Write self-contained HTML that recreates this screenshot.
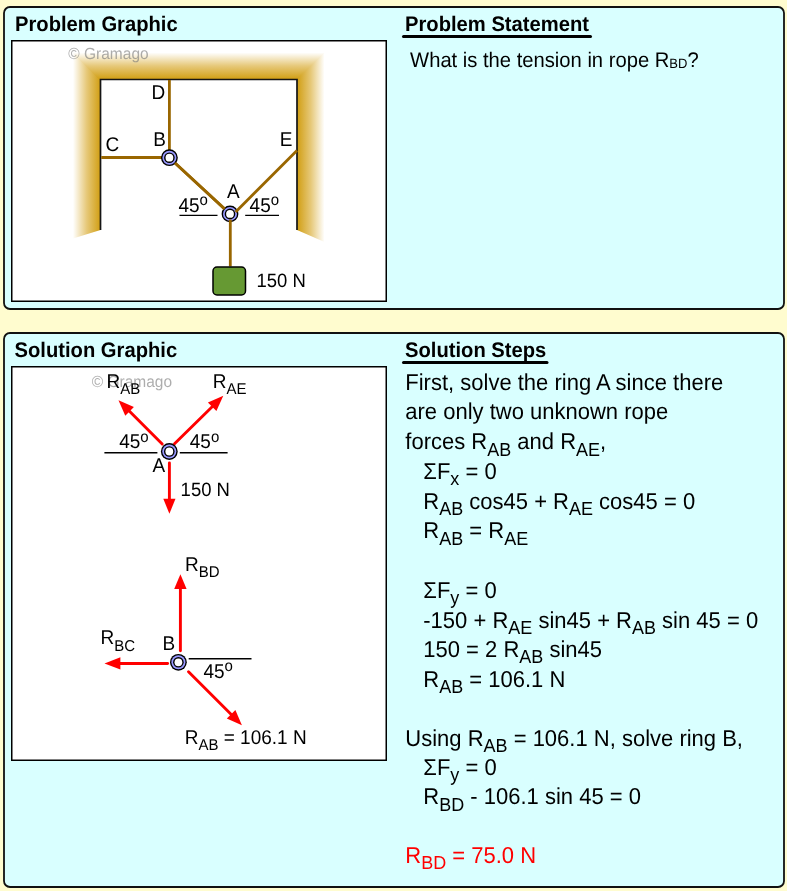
<!DOCTYPE html>
<html>
<head>
<meta charset="utf-8">
<style>
html,body{margin:0;padding:0;background:#FFFCCF;}
body{width:787px;height:891px;overflow:hidden;}
svg{display:block;will-change:transform;}
text{font-family:"Liberation Sans",sans-serif;text-rendering:geometricPrecision;}
.h{font-weight:bold;font-size:20.2px;}
.st{font-size:22px;}
.lb{font-size:19px;}
</style>
</head>
<body>
<svg width="787" height="891" viewBox="0 0 787 891">
<defs>
  <linearGradient id="gL" gradientUnits="userSpaceOnUse" x1="73" y1="0" x2="100.5" y2="0">
    <stop offset="0" stop-color="#FFFFFF"/>
    <stop offset="0.5" stop-color="#E6C878"/>
    <stop offset="1" stop-color="#D19E12"/>
  </linearGradient>
  <linearGradient id="gT" gradientUnits="userSpaceOnUse" x1="0" y1="52.5" x2="0" y2="79.5">
    <stop offset="0" stop-color="#FFFFFF"/>
    <stop offset="0.5" stop-color="#E6C878"/>
    <stop offset="1" stop-color="#D19E12"/>
  </linearGradient>
  <linearGradient id="gR" gradientUnits="userSpaceOnUse" x1="324.5" y1="0" x2="297" y2="0">
    <stop offset="0" stop-color="#FFFFFF"/>
    <stop offset="0.5" stop-color="#E6C878"/>
    <stop offset="1" stop-color="#D19E12"/>
  </linearGradient>
</defs>

<!-- panels -->
<rect x="4" y="7" width="780" height="302" rx="6" fill="#D9FFFF" stroke="#111" stroke-width="1.8"/>
<rect x="4" y="333" width="780" height="554" rx="6" fill="#D9FFFF" stroke="#111" stroke-width="1.8"/>

<!-- white boxes -->
<rect x="11.75" y="40.75" width="374.5" height="260.5" fill="#FFFFFF" stroke="#000" stroke-width="1.5"/>
<rect x="11.75" y="366.75" width="374.5" height="393.5" fill="#FFFFFF" stroke="#000" stroke-width="1.5"/>

<!-- headings -->
<text class="h" x="15" y="30.8" transform="matrix(1,0,0,1.0450,0,-1.3860)">Problem Graphic</text>
<text class="h" x="405" y="30.9" transform="matrix(1,0,0,1.0450,0,-1.3905)">Problem Statement</text>
<line x1="403.5" y1="36.5" x2="590.5" y2="36.5" stroke="#000" stroke-width="3" stroke-linecap="round"/>
<text class="h" x="14.5" y="357.3" transform="matrix(1,0,0,1.0450,0,-16.0785)">Solution Graphic</text>
<text class="h" x="405" y="357" transform="matrix(1,0,0,1.0450,0,-16.0650)">Solution Steps</text>
<line x1="403.5" y1="362.5" x2="547" y2="362.5" stroke="#000" stroke-width="3" stroke-linecap="round"/>

<!-- problem statement -->
<text x="410.1" y="66.7" font-size="20.2" transform="matrix(1,0,0,1.0450,0,-3.0015)">What is the tension in rope R<tspan font-size="13" dy="1.3">BD</tspan><tspan dy="-1.3">?</tspan></text>

<!-- ===== Problem graphic ===== -->
<polygon points="73,52.5 100.5,79.5 100.5,230 73,238.5" fill="url(#gL)"/>
<polygon points="72.3,52.5 325.2,52.5 297.7,80 99.8,80" fill="url(#gT)"/>
<polygon points="324.5,52.5 324.5,242 297,230 297,79.5" fill="url(#gR)"/>
<polyline points="100.5,230 100.5,79.5 297,79.5 297,230" fill="none" stroke="#151515" stroke-width="1.7"/>
<text x="68.3" y="59.5" font-size="15.5" fill="#777" fill-opacity="0.6" transform="matrix(1,0,0,1.0450,0,-2.6775)">© Gramago</text>

<g stroke="#996600" stroke-width="2.8" fill="none">
  <line x1="169.4" y1="80" x2="169.4" y2="152"/>
  <line x1="101.2" y1="157.5" x2="162" y2="157.5"/>
  <line x1="174.5" y1="162.5" x2="230" y2="214"/>
</g>
<g>
  <circle cx="169.4" cy="157.7" r="8.4" fill="#000"/>
  <circle cx="169.4" cy="157.7" r="7.0" fill="#9999FF"/>
  <circle cx="169.4" cy="157.7" r="5.3" fill="#000"/>
  <circle cx="169.4" cy="157.7" r="3.9" fill="#FFF"/>
</g>
<g>
  <circle cx="230" cy="213.9" r="8.4" fill="#000"/>
  <circle cx="230" cy="213.9" r="7.0" fill="#9999FF"/>
  <circle cx="230" cy="213.9" r="5.3" fill="#000"/>
  <circle cx="230" cy="213.9" r="3.9" fill="#FFF"/>
</g>
<g stroke="#996600" stroke-width="2.8" fill="none">
  <line x1="175" y1="163" x2="224.6" y2="208.9"/>
  <line x1="235.6" y1="211.9" x2="297" y2="150.5"/>
  <line x1="230.3" y1="219.5" x2="230.3" y2="266.5"/>
</g>
<g stroke="#000" stroke-width="1.4">
  <line x1="179.5" y1="215.4" x2="217.5" y2="215.4"/>
  <line x1="245.2" y1="215.4" x2="279" y2="215.4"/>
</g>
<rect x="213" y="267" width="32.5" height="28" rx="4" fill="#669933" stroke="#000" stroke-width="1.5"/>

<g class="lb">
  <text class="lb" x="151.6" y="99.1" transform="matrix(1,0,0,1.0450,0,-4.4595)">D</text>
  <text class="lb" x="153.3" y="145.6" transform="matrix(1,0,0,1.0450,0,-6.5520)">B</text>
  <text class="lb" x="105.5" y="150.6" transform="matrix(1,0,0,1.0450,0,-6.7770)">C</text>
  <text class="lb" x="279.7" y="145.9" transform="matrix(1,0,0,1.0450,0,-6.5655)">E</text>
  <text class="lb" x="226.9" y="197.9" transform="matrix(1,0,0,1.0450,0,-8.9055)">A</text>
  <text class="lb" x="178.4" y="211.6" transform="matrix(1,0,0,1.0450,0,-9.5220)"><tspan font-size="19">45</tspan><tspan font-size="15" dy="-6.3">o</tspan></text>
  <text class="lb" x="249.6" y="211.6" transform="matrix(1,0,0,1.0450,0,-9.5220)"><tspan font-size="19">45</tspan><tspan font-size="15" dy="-6.3">o</tspan></text>
  <text class="lb" x="256.4" y="287.1" font-size="18.5" style="font-size:18.5px" transform="matrix(1,0,0,1.0450,0,-12.9195)">150 N</text>
</g>

<!-- ===== Solution graphic ===== -->
<text x="91.7" y="386.5" font-size="15.5" fill="#777" fill-opacity="0.6" transform="matrix(1,0,0,1.0450,0,-17.3925)">© Gramago</text>
<g stroke="#FF0000" stroke-width="2.9" stroke-linecap="round" fill="none">
  <line x1="162.2" y1="444" x2="127" y2="408.8"/>
  <line x1="174.5" y1="443.7" x2="215" y2="404"/>
  <line x1="169.4" y1="463" x2="169.4" y2="502"/>
  <line x1="180.4" y1="650.7" x2="180.4" y2="586"/>
  <line x1="167.6" y1="663.5" x2="118" y2="663.5"/>
  <line x1="188.5" y1="671.8" x2="233" y2="716.3"/>
</g>
<g fill="#FF0000">
  <!-- tip AB (118.5,400.3) dir up-left -->
  <polygon points="118.5,400.3 133.9,407.1 125.3,415.7"/>
  <polygon points="223.3,395.7 216.4,411.0 207.9,402.5"/>
  <polygon points="169.4,513.8 163.3,498.8 175.5,498.8"/>
  <polygon points="180.4,574.2 186.6,589 174.2,589"/>
  <polygon points="104.5,663.4 120.4,657.2 120.4,669.6"/>
  <polygon points="241.9,725.2 226.8,718.6 235.4,710.0"/>
</g>
<g>
  <circle cx="169.3" cy="451.5" r="8.4" fill="#000"/>
  <circle cx="169.3" cy="451.5" r="7.0" fill="#9999FF"/>
  <circle cx="169.3" cy="451.5" r="5.3" fill="#000"/>
  <circle cx="169.3" cy="451.5" r="3.9" fill="#FFF"/>
  <circle cx="178.4" cy="662.3" r="8.4" fill="#000"/>
  <circle cx="178.4" cy="662.3" r="7.0" fill="#9999FF"/>
  <circle cx="178.4" cy="662.3" r="5.3" fill="#000"/>
  <circle cx="178.4" cy="662.3" r="3.9" fill="#FFF"/>
</g>
<g stroke="#000" stroke-width="1.6">
  <line x1="104.4" y1="452.7" x2="157.4" y2="452.7"/>
  <line x1="179.8" y1="452.7" x2="227.6" y2="452.7"/>
  <line x1="188.7" y1="658.8" x2="251.5" y2="658.8"/>
</g>
<text class="lb" x="106.6" y="387.8" transform="matrix(1,0,0,1.0450,0,-17.4510)">R<tspan font-size="15" dy="6.4">AB</tspan></text>
<text class="lb" x="212.7" y="387.8" transform="matrix(1,0,0,1.0450,0,-17.4510)">R<tspan font-size="15" dy="6.4">AE</tspan></text>
<text class="lb" x="119.2" y="448.2" transform="matrix(1,0,0,1.0450,0,-20.1690)"><tspan font-size="19">45</tspan><tspan font-size="15" dy="-6.3">o</tspan></text>
<text class="lb" x="189.8" y="448.2" transform="matrix(1,0,0,1.0450,0,-20.1690)"><tspan font-size="19">45</tspan><tspan font-size="15" dy="-6.3">o</tspan></text>
<text class="lb" x="152.5" y="472" transform="matrix(1,0,0,1.0450,0,-21.2400)">A</text>
<text class="lb" x="180.6" y="495.9" style="font-size:18.5px" transform="matrix(1,0,0,1.0450,0,-22.3155)">150 N</text>
<text class="lb" x="185" y="570.9" transform="matrix(1,0,0,1.0450,0,-25.6905)">R<tspan font-size="15" dy="6">BD</tspan></text>
<text class="lb" x="100.6" y="643.8" transform="matrix(1,0,0,1.0450,0,-28.9710)">R<tspan font-size="15" dy="7">BC</tspan></text>
<text class="lb" x="162.5" y="649.6" transform="matrix(1,0,0,1.0450,0,-29.2320)">B</text>
<text class="lb" x="203.4" y="678" transform="matrix(1,0,0,1.0450,0,-30.5100)"><tspan font-size="19">45</tspan><tspan font-size="15" dy="-6.3">o</tspan></text>
<text class="lb" x="184.7" y="743.7" transform="matrix(1,0,0,1.0450,0,-33.4665)">R<tspan font-size="15" dy="6">AB</tspan><tspan dy="-6"> = 106.1 N</tspan></text>

<!-- ===== Solution steps ===== -->
<g class="st">
<text class="st" x="405.3" y="389.8" transform="matrix(1,0,0,1.0450,0,-17.5410)">First, solve the ring A since there</text>
<text class="st" x="405.3" y="419.5" transform="matrix(1,0,0,1.0450,0,-18.8775)">are only two unknown rope</text>
<text class="st" x="405.3" y="449.5" transform="matrix(1,0,0,1.0450,0,-20.2275)">forces R<tspan font-size="18" dy="6">AB</tspan><tspan dy="-6"> and R</tspan><tspan font-size="18" dy="6">AE</tspan><tspan dy="-6">,</tspan></text>
<text class="st" x="423.3" y="479.1" transform="matrix(1,0,0,1.0450,0,-21.5595)">ΣF<tspan font-size="18" dy="6">x</tspan><tspan dy="-6"> = 0</tspan></text>
<text class="st" x="423.3" y="508.5" transform="matrix(1,0,0,1.0450,0,-22.8825)">R<tspan font-size="18" dy="6">AB</tspan><tspan dy="-6"> cos45 + R</tspan><tspan font-size="18" dy="6">AE</tspan><tspan dy="-6"> cos45 = 0</tspan></text>
<text class="st" x="423.3" y="538.3" transform="matrix(1,0,0,1.0450,0,-24.2235)">R<tspan font-size="18" dy="6">AB</tspan><tspan dy="-6"> = R</tspan><tspan font-size="18" dy="6">AE</tspan></text>
<text class="st" x="423.3" y="597.9" transform="matrix(1,0,0,1.0450,0,-26.9055)">ΣF<tspan font-size="18" dy="6">y</tspan><tspan dy="-6"> = 0</tspan></text>
<text class="st" x="423.3" y="627.6" transform="matrix(1,0,0,1.0450,0,-28.2420)">-150 + R<tspan font-size="18" dy="6">AE</tspan><tspan dy="-6"> sin45 + R</tspan><tspan font-size="18" dy="6">AB</tspan><tspan dy="-6"> sin 45 = 0</tspan></text>
<text class="st" x="423.3" y="656.9" transform="matrix(1,0,0,1.0450,0,-29.5605)">150 = 2 R<tspan font-size="18" dy="6">AB</tspan><tspan dy="-6"> sin45</tspan></text>
<text class="st" x="423.3" y="686.7" transform="matrix(1,0,0,1.0450,0,-30.9015)">R<tspan font-size="18" dy="6">AB</tspan><tspan dy="-6"> = 106.1 N</tspan></text>
<text class="st" x="405.3" y="746" transform="matrix(1,0,0,1.0450,0,-33.5700)">Using R<tspan font-size="18" dy="6">AB</tspan><tspan dy="-6"> = 106.1 N, solve ring B,</tspan></text>
<text class="st" x="423.3" y="774.8" transform="matrix(1,0,0,1.0450,0,-34.8660)">ΣF<tspan font-size="18" dy="6">y</tspan><tspan dy="-6"> = 0</tspan></text>
<text class="st" x="423.3" y="804.4" transform="matrix(1,0,0,1.0450,0,-36.1980)">R<tspan font-size="18" dy="6">BD</tspan><tspan dy="-6"> - 106.1 sin 45 = 0</tspan></text>
<text class="st" x="405.3" y="862.8" fill="#FF0000" transform="matrix(1,0,0,1.0450,0,-38.8260)">R<tspan font-size="18" dy="6">BD</tspan><tspan dy="-6"> = 75.0 N</tspan></text>
</g>
</svg>
</body>
</html>
